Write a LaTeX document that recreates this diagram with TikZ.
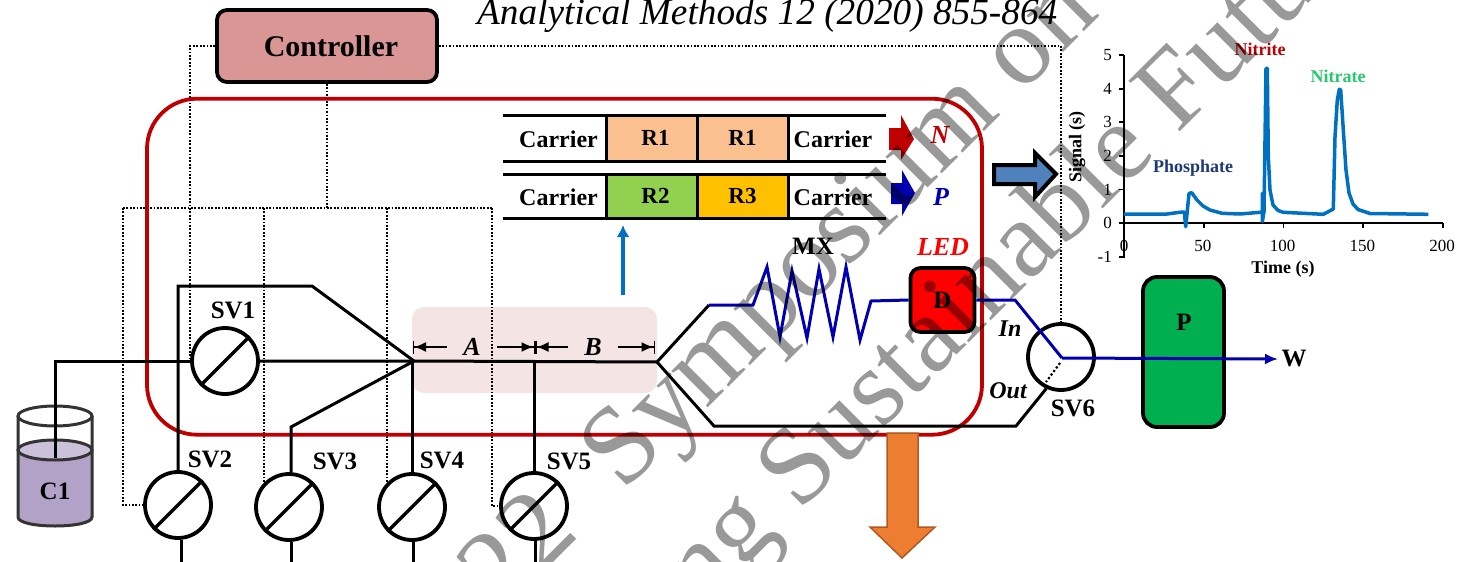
\documentclass[tikz,border=0pt]{standalone}
\usepackage{fontspec}
\setmainfont{Liberation Serif}
\usetikzlibrary{arrows.meta}
\definecolor{deepred}{RGB}{192,0,0}
\definecolor{flowblue}{RGB}{0,0,176}
\definecolor{peakblue}{RGB}{0,112,192}
\definecolor{ctrlpink}{RGB}{217,150,148}
\definecolor{zonepink}{RGB}{244,228,228}
\definecolor{liquid}{RGB}{179,162,199}
\definecolor{liquidtop}{RGB}{204,193,218}
\definecolor{peach}{RGB}{250,192,144}
\definecolor{leaf}{RGB}{146,208,80}
\definecolor{amber}{RGB}{255,192,0}
\definecolor{pumpgreen}{RGB}{0,176,80}
\definecolor{orangefill}{RGB}{237,125,49}
\definecolor{orangeedge}{RGB}{174,90,33}
\definecolor{steel}{RGB}{79,129,189}
\definecolor{phoblue}{RGB}{31,56,120}
\definecolor{natgreen}{RGB}{40,200,110}
\newcommand{\fsz}[1]{\fontsize{#1}{#1}\selectfont}
\tikzset{
  tube/.style={line width=3,black},
  flow/.style={line width=3,flowblue},
  wire/.style={line width=1.7,black,dash pattern=on 1.7pt off 1.7pt},
  valve/.style={circle,draw,line width=3.8,fill=white,inner sep=0,minimum size=66},
  lbl/.style={inner sep=0,font=\bfseries\fsz{25}},
  cell/.style={draw,line width=3,inner sep=0,minimum width=91,minimum height=#1,font=\bfseries\fsz{23}},
  carrier/.style={inner sep=0,font=\bfseries\fsz{24}},
  dim/.style={line width=1.9,-{Latex[length=12pt,width=10pt,sep=0pt]Bar[width=13pt,line width=1.5pt]}},
  box/.style={draw,line width=3.8,rounded corners=#1,inner sep=0},
  chartlbl/.style={inner sep=0,font=\bfseries\fsz{18}},
  ticklbl/.style={inner sep=0,font=\fsz{17}},
  overprint/.style={anchor=base west,inner sep=0,rotate=45,text=black,text opacity=0.4}
}
\begin{document}
\begin{tikzpicture}[x=1pt,y=-1pt]
\useasboundingbox (0,0) rectangle (1457,562);
\node[anchor=base west,inner sep=0,font=\itshape\fsz{37.3}] (title) at (477,24) {Analytical Methods 12 (2020) 855-864};
\node[rounded corners=12,fill=zonepink,minimum width=245,minimum height=86,inner sep=0] (zone) at (534.5,350) {};
% controller and valve positions
\node[box=10,fill=ctrlpink,minimum width=220,minimum height=72,lbl,font=\bfseries\fsz{30}] (ctrl) at (327,46) {\hspace*{8pt}Controller};
\foreach \n/\x/\y in {sv1/225/361,sv2/178/505,sv3/289/507,sv4/412/507,sv5/534/506,sv6/1061/357}{
  \node[valve] (\n) at (\x,\y) {};
}
\coordinate (busw) at (123,208);
\coordinate (buse) at (492,208);
\draw[wire] (ctrl.west) -| (sv1.west);
\draw[wire] (ctrl.east) -| (sv6.north);
\draw[wire] (ctrl.south) -- (ctrl.south|-busw);
\draw[wire] (busw) -- (buse);
\draw[wire] (busw) |- (sv2.west);
\draw[wire] (sv3.135|-busw) -- (sv3.135);
\draw[wire] (sv4.135|-busw) -- (sv4.135);
\draw[wire] (buse) |- (sv5.west);
\node[draw=deepred,line width=3.8,rounded corners=50,inner sep=0,minimum width=835,minimum height=336] (chip) at (564.5,266.7) {};
% beaker
\fill[liquid] (18,450) -- (18,517) .. controls (18,529) and (92,529) .. (92,517) -- (92,450) -- cycle;
\draw[line width=3,black!80,fill=liquidtop] (55,450) ellipse [x radius=37,y radius=10];
\draw[line width=3,black!80] (55,416) ellipse [x radius=37,y radius=10];
\draw[line width=3,black!80] (18,416) -- (18,517) .. controls (18,529) and (92,529) .. (92,517) -- (92,416);
\node[lbl] (c1) at (55,491) {C1};
% tubing
\coordinate (dip) at (55,458);
\coordinate (jn) at (414,361);
\coordinate (split) at (657,362);
\coordinate (loopup) at (709,305);
\coordinate (looplow) at (714,426);
\coordinate (lowr) at (1016,426);
\coordinate (sv2c) at (312,286);
\coordinate (sv3c) at (291,427);
\draw[tube] (dip) |- (sv1.west);
\draw[tube] (sv1.east) -- (jn) -- (split);
\draw[tube] (sv2.north) |- (sv2c) -- (jn);
\draw[tube] (sv3c|-sv3.north) -- (sv3c) -- (jn);
\draw[tube] (sv4.north) -- (sv4.north|-jn) -- (jn);
\draw[tube] (sv5.north) -- (sv5.north|-split);
\draw[tube] (loopup) -- (split) -- (looplow) -- (lowr) -- (sv6.245);
\foreach \n/\x in {sv2/181,sv3/291,sv4/413,sv5/535}{
  \coordinate (\n end) at (\x,562);
  \draw[tube] (\n end|-\n.south) -- (\n end);
  \draw[tube,line width=3.3] (\n.225) -- (\n.45);
}
\draw[tube,line width=3.3] (sv1.225) -- (sv1.45);
\foreach \n/\x/\y/\t in {lsv1/233/310/SV1,lsv2/210/459/SV2,lsv3/335/461/SV3,lsv4/442/460/SV4,lsv5/569/461/SV5,lsv6/1073/408/SV6,lmx/813/246/MX}{
  \node[lbl] (\n) at (\x,\y) {\t};
}
% zones
\coordinate (dimL) at (412.5,347);
\coordinate (dimM) at (535,347);
\coordinate (dimR) at (655,347);
\node[inner sep=16.5,font=\bfseries\itshape\fsz{26}] (za) at (472,347) {A};
\node[inner sep=16,font=\bfseries\itshape\fsz{26}] (zb) at (593,347) {B};
\draw[dim] (za) -- (dimL);
\draw[dim] (za) -- (dimM);
\draw[dim] (zb) -- (dimM);
\draw[dim] (zb) -- (dimR);
% reagent zones
\foreach \n/\x/\y/\h/\c/\t in {ra/651.5/138/46/peach/\hspace*{8pt}R1,rb/742.5/138/46/peach/R1,rc/651.5/196/44/leaf/\hspace*{8pt}R2,rd/742.5/196/44/amber/R3}{
  \node[cell=\h,fill=\c] (\n) at (\x,\y) {\t};
}
\foreach \n/\x/\y in {ca/558.5/139,cb/833/139,cc/558.5/197,cd/833/197}{
  \node[carrier] (\n) at (\x,\y) {Carrier};
}
\foreach \n/\y in {a/115,b/161,c/174,d/218}{
  \coordinate (row\n w) at (503,\y);
  \coordinate (row\n e) at (886,\y);
  \draw[tube] (row\n w) -- (row\n e);
}
\fill[deepred] (889,128) -- (901,128) -- (901,115) -- (914,139) -- (901,160) -- (901,150) -- (889,150) -- cycle;
\fill[flowblue] (891,183) -- (902,183) -- (902,170) -- (915,193) -- (902,216) -- (902,204) -- (891,204) -- cycle;
\node[lbl,text=deepred,font=\bfseries\itshape\fsz{26}] (lN) at (940,135) {N};
\node[lbl,text=flowblue,font=\bfseries\itshape\fsz{26}] (lP) at (941,197) {P};
\coordinate (upfrom) at (623,295);
\coordinate (upto) at (623,225);
\draw[peakblue,line width=3.2,-{Latex[length=12pt,width=13pt]}] (upfrom) -- (upto);
% detector and mixing coil
\node[box=10,fill=red,minimum width=64,minimum height=64,lbl] (det) at (942.5,300) {D};
\node[lbl,text=red,font=\bfseries\itshape\fsz{26}] (led) at (943,247) {LED};
\coordinate (mxin) at (753,305);
\coordinate (mxout) at (871,301);
\coordinate (upr) at (1015,300);
\coordinate (cen) at (1062,358);
\draw[flow] (loopup) -- (mxin) -- (767,267) -- (780,337) -- (792,271) -- (807,338) -- (819,269) -- (833,337) -- (846,267) -- (860,340) -- (mxout) -- (det.west);
\node[box=14,fill=pumpgreen,minimum width=81,minimum height=150,lbl] (pump) at (1183.5,352) {};
\node[lbl] (lpump) at (1184,322) {P};
\node[lbl] (lw) at (1294,359) {W};
\coordinate (wt) at (1278,359);
\draw[flow] (det.east) -- (upr) -- (cen);
\draw[flow,-{Latex[length=13pt,width=11pt]}] (cen) -- (wt);
\coordinate (outa) at (1060,363);
\coordinate (outb) at (1046,382);
\draw[wire,line width=2.2,dash pattern=on 2.2pt off 2.2pt] (outa) -- (outb);
\node[lbl,font=\bfseries\itshape\fsz{24}] (lin) at (1010,329) {In};
\node[lbl,font=\bfseries\itshape\fsz{24}] (lout) at (1008,391) {Out};
% big arrows
\draw[line width=1.5,orangeedge,fill=orangefill] (887,433) -- (918,433) -- (918,527) -- (935,527) -- (902,558) -- (870,527) -- (887,527) -- cycle;
\draw[line width=4,miter limit=3,fill=steel] (994,165) -- (1035,165) -- (1035,153) -- (1056,174) -- (1035,197) -- (1035,184) -- (994,184) -- cycle;
% chart
\foreach \a in {50,100,150,200}{
  \draw[line width=1.8] ({1124+\a*1.595},223) -- ({1124+\a*1.595},228);
  \node[ticklbl] (xt\a) at ({1124+\a*1.595-1},246) {\a};
}
\node[ticklbl] (xt0) at (1124,246) {0};
\foreach \p in {-1,0,1,2,3,4,5}{
  \draw[line width=1.8] (1119,{223-\p*33.6}) -- (1124,{223-\p*33.6});
  \node[ticklbl,anchor=east] (yt\p) at (1112,{223-\p*33.6}) {\p};
}
\draw[line width=1.8] (1124,55) -- (1124,258);
\draw[line width=1.8] (1124,223) -- (1443,223);
\node[chartlbl,rotate=90] (ylab) at (1077,147) {Signal (s)};
\node[chartlbl] (xlab) at (1283,269) {Time (s)};
\draw[peakblue,line width=3.5,line join=round] (1124,214) -- (1167,214) -- (1182,212) -- (1184.3,212) -- (1185.7,226.7) -- (1186.7,217) -- (1189,193.5) -- (1191.7,192.7) -- (1197,200) -- (1203,206) -- (1210,210) -- (1222,213.3) -- (1240,214) -- (1260,212.3) -- (1262.3,212) -- (1262.3,193.3) -- (1262.3,221.7) -- (1264,211.7) -- (1266,68.3) -- (1267.3,68.3) -- (1268.3,156.7) -- (1270,190) -- (1273,205) -- (1278,210.5) -- (1283.3,212.3) -- (1323.3,214.3) -- (1333.3,209) -- (1335,136.7) -- (1337.3,100) -- (1339.3,89.3) -- (1340.7,90) -- (1343.3,130) -- (1346,170) -- (1349,193) -- (1353,204) -- (1358,209.5) -- (1370,213.5) -- (1428.3,214.3);
\node[chartlbl,text=phoblue] (lpho) at (1193,168) {Phosphate};
\node[chartlbl,text=deepred] (lnit) at (1260,49) {Nitrite};
\node[chartlbl,text=natgreen] (lnat) at (1338,76) {Nitrate};
% overprint
\begin{scope}
\clip (0,0) rectangle (1457,562);
\node[overprint,font=\fsz{112}] (markA) at (502,614) {22\hspace*{.53em}Symposium on};
\node[overprint,font=\fsz{110}] (markB) at (702,610) {ng Sustainable Future};
\end{scope}
\end{tikzpicture}
\end{document}
